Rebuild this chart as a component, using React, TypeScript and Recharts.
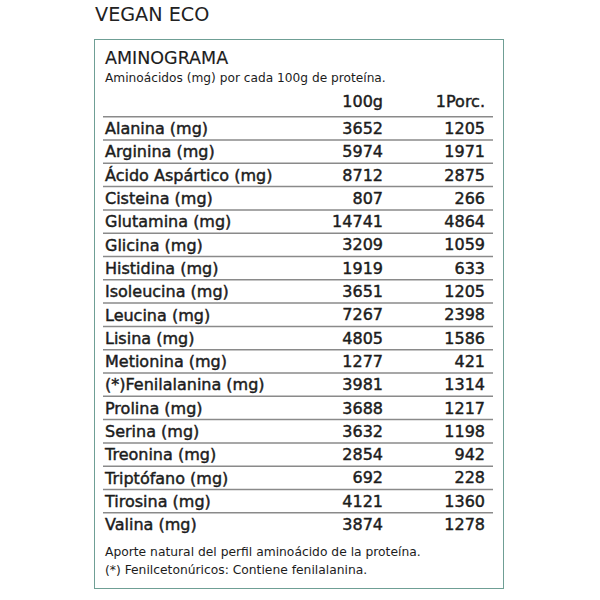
import { Bar, BarChart, LabelList, XAxis, YAxis } from "recharts";

const aminoacids = [
  "Alanina (mg)",
  "Arginina (mg)",
  "Ácido Aspártico (mg)",
  "Cisteina (mg)",
  "Glutamina (mg)",
  "Glicina (mg)",
  "Histidina (mg)",
  "Isoleucina (mg)",
  "Leucina (mg)",
  "Lisina (mg)",
  "Metionina (mg)",
  "(*)Fenilalanina (mg)",
  "Prolina (mg)",
  "Serina (mg)",
  "Treonina (mg)",
  "Triptófano (mg)",
  "Tirosina (mg)",
  "Valina (mg)",
];
const per100g = [3652, 5974, 8712, 807, 14741, 3209, 1919, 3651, 7267, 4805, 1277, 3981, 3688, 3632, 2854, 692, 4121, 3874];
const perPortion = [1205, 1971, 2875, 266, 4864, 1059, 633, 1205, 2398, 1586, 421, 1314, 1217, 1198, 942, 228, 1360, 1278];
const columns = ["100g", "1Porc."];
const notes = [
  "Aporte natural del perfil aminoácido de la proteína.",
  "(*) Fenilcetonúricos: Contiene fenilalanina.",
];

const rows = aminoacids.map((name, i) => ({ name, g100: per100g[i], porc: perPortion[i] }));

const FONT = "'DejaVu Sans', sans-serif";
const INK = "#1c1c1c";
const COL_X = [383, 485];

// medium weight: regular face with a thin outline
const medium = {
  fontFamily: FONT,
  fontSize: 16,
  fill: INK,
  stroke: INK,
  strokeWidth: 0.45,
};

const NameTick = (props: any) => (
  <text x={105} y={props.y} dy="0.36em" {...medium}>
    {props.payload.value}
  </text>
);

const valueLabel = (col: number) => (props: any) => {
  const vb = props.viewBox || props;
  const cy = vb.y + vb.height / 2;
  return (
    <text x={COL_X[col]} y={cy} dy="0.36em" textAnchor="end" {...medium}>
      {props.value}
    </text>
  );
};

const RowRule = (props: any) => (
  <line
    x1={props.x}
    x2={props.x + props.width}
    y1={props.y}
    y2={props.y}
    stroke="#8a8a8a"
    strokeWidth={1.5}
  />
);

export default function App() {
  return (
    <div style={{ position: "absolute", left: 0, top: 0, width: 600, height: 600, background: "#fff" }}>
      <div
        style={{
          position: "absolute",
          left: 94,
          top: 39,
          width: 408,
          height: 548,
          border: "1.5px solid #6f9f95",
        }}
      />
      <div style={{ position: "absolute", left: 0, top: 0 }}>
        <BarChart
          width={600}
          height={600}
          data={rows}
          layout="vertical"
          barCategoryGap={0}
          margin={{ top: 116.7, right: 107, bottom: 63.9, left: 3 }}
        >
          <XAxis type="number" hide domain={[0, "dataMax"]} />
          <YAxis
            type="category"
            dataKey="name"
            width={100}
            axisLine={false}
            tickLine={false}
            tick={<NameTick />}
            interval={0}
          />
          <Bar
            dataKey="g100"
            fill="transparent"
            background={(p: any) => <RowRule key={p.index} {...p} />}
            isAnimationActive={false}
          >
            <LabelList dataKey="g100" content={valueLabel(0)} />
            <LabelList dataKey="porc" content={valueLabel(1)} />
          </Bar>
          <text x={95} y={21} fontFamily={FONT} fontSize={19.2} fill="#222">
            VEGAN ECO
          </text>
          <text x={105} y={64} fontFamily={FONT} fontSize={17.5} fill={INK} stroke={INK} strokeWidth={0.15}>
            AMINOGRAMA
          </text>
          <text x={105} y={82} fontFamily={FONT} fontSize={12.2} fill={INK}>
            Aminoácidos (mg) por cada 100g de proteína.
          </text>
          {columns.map((c, i) => (
            <text key={c} x={COL_X[i]} y={107} textAnchor="end" {...medium}>
              {c}
            </text>
          ))}
          {notes.map((n, i) => (
            <text key={n} x={105} y={556 + i * 18} fontFamily={FONT} fontSize={12.3} fill={INK}>
              {n}
            </text>
          ))}
        </BarChart>
      </div>
    </div>
  );
}
